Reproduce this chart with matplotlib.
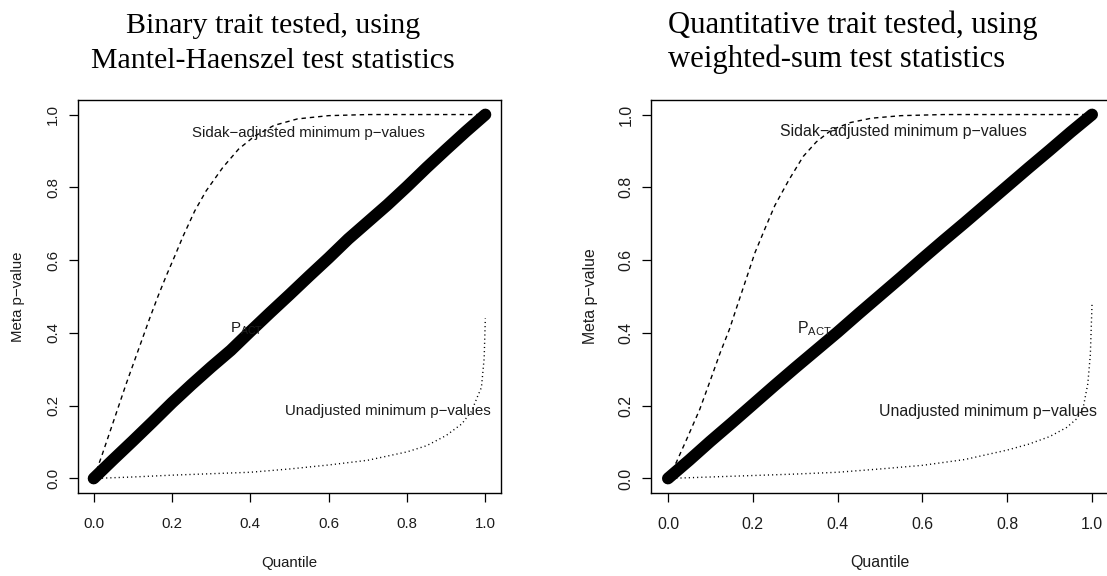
import matplotlib
matplotlib.use("Agg")
import matplotlib.pyplot as plt

# ---------------------------------------------------------------- data
quantile_grid = [0.00, 0.05, 0.10, 0.15, 0.20, 0.25, 0.30, 0.35, 0.40, 0.45, 0.50,
                 0.55, 0.60, 0.65, 0.70, 0.75, 0.80, 0.85, 0.90, 0.95, 1.00]

# observed meta p-values (P_ACT) at each quantile
binary_actual = [0.000, 0.052, 0.103, 0.155, 0.208, 0.258, 0.306, 0.352, 0.404, 0.455, 0.505,
                 0.556, 0.606, 0.658, 0.705, 0.752, 0.802, 0.854, 0.904, 0.953, 1.000]
quant_actual = [0.000, 0.050, 0.102, 0.152, 0.203, 0.254, 0.304, 0.353, 0.402, 0.453, 0.503,
                0.553, 0.604, 0.654, 0.703, 0.753, 0.803, 0.853, 0.902, 0.952, 1.000]

# Sidak-adjusted minimum p-values
binary_sidak_q = [0.000, 0.020, 0.050, 0.083, 0.113, 0.143, 0.164, 0.185, 0.207, 0.228, 0.258,
                  0.287, 0.330, 0.370, 0.410, 0.460, 0.520, 0.600, 0.700, 1.000]
binary_sidak_p = [0.000, 0.060, 0.155, 0.260, 0.350, 0.440, 0.500, 0.556, 0.611, 0.665, 0.735,
                  0.790, 0.855, 0.905, 0.940, 0.970, 0.988, 0.997, 1.000, 1.000]
quant_sidak_q = [0.000, 0.020, 0.045, 0.075, 0.100, 0.123, 0.145, 0.162, 0.185, 0.205, 0.230,
                 0.252, 0.285, 0.319, 0.350, 0.386, 0.430, 0.480, 0.550, 0.650, 1.000]
quant_sidak_p = [0.000, 0.045, 0.110, 0.190, 0.270, 0.345, 0.410, 0.470, 0.550, 0.620, 0.690,
                 0.750, 0.820, 0.885, 0.925, 0.958, 0.978, 0.990, 0.997, 1.000, 1.000]

# unadjusted minimum p-values
binary_unadj_q = [0.0, 0.1, 0.2, 0.3, 0.4, 0.5, 0.6, 0.7, 0.8, 0.85, 0.9, 0.94, 0.965,
                  0.98, 0.99, 0.997, 1.0]
binary_unadj_p = [0.0, 0.004, 0.009, 0.013, 0.017, 0.026, 0.037, 0.050, 0.073, 0.090, 0.118,
                  0.150, 0.185, 0.225, 0.250, 0.330, 0.440]
quant_unadj_q = [0.0, 0.1, 0.2, 0.3, 0.4, 0.5, 0.6, 0.7, 0.8, 0.85, 0.9, 0.94, 0.965,
                 0.98, 0.99, 0.996, 1.0]
quant_unadj_p = [0.0, 0.004, 0.008, 0.012, 0.017, 0.026, 0.036, 0.052, 0.078, 0.094, 0.115,
                 0.140, 0.165, 0.200, 0.260, 0.340, 0.480]

tick_values = [0.0, 0.2, 0.4, 0.6, 0.8, 1.0]
tick_labels = ["0.0", "0.2", "0.4", "0.6", "0.8", "1.0"]

binary_title = ["Binary trait tested, using", "Mantel-Haenszel test statistics"]
quant_title = ["Quantitative trait tested, using", "weighted-sum test statistics"]

# ---------------------------------------------------------------- style
W, H, DPI = 1107, 576, 100
plt.rcParams.update({
    "font.family": ["Liberation Sans", "DejaVu Sans"],
    "mathtext.fontset": "custom",
    "mathtext.rm": "Liberation Sans",
    "mathtext.it": "Liberation Sans:italic",
    "mathtext.bf": "Liberation Sans:bold",
})
TEXT = "#1c1c1c"

fig = plt.figure(figsize=(W / DPI, H / DPI), dpi=DPI)
fig.patch.set_facecolor("white")


def px_rect(left, top, right, bottom):
    return [left / W, 1 - bottom / H, (right - left) / W, (bottom - top) / H]


def panel(box, actual, sidak_q, sidak_p, unadj_q, unadj_p,
          sidak_at, pact_at, unadj_at, fs=10.8, show_right=True):
    left, top, right, bottom = box
    ax = fig.add_axes(px_rect(left, top, right, bottom))
    ax.plot(sidak_q, sidak_p, color="black", lw=1.0, dashes=(3.2, 2.8))
    ax.plot(unadj_q, unadj_p, color="black", lw=1.0, dashes=(0.8, 2.2))
    ax.text(*sidak_at, "Sidak\u2212adjusted minimum p\u2212values",
            ha="center", va="center", fontsize=fs, color=TEXT)
    ax.text(*unadj_at, "Unadjusted minimum p\u2212values",
            ha="center", va="center", fontsize=fs, color=TEXT)
    ax.text(*pact_at, r"$\mathrm{P}_{\mathrm{ACT}}$",
            ha="left", va="baseline", fontsize=fs, color=TEXT)
    ax.plot(quantile_grid, actual, color="black", lw=8.6,
            solid_capstyle="round", solid_joinstyle="round")

    ax.set_xlim(-0.04, 1.04)
    ax.set_ylim(-0.04, 1.04)
    ax.set_xticks(tick_values)
    ax.set_xticklabels(tick_labels)
    ax.set_yticks(tick_values)
    ax.set_yticklabels(tick_labels)
    ax.tick_params(axis="both", direction="out", length=6.5, width=0.9,
                   color="black", labelsize=fs, labelcolor=TEXT)
    ax.tick_params(axis="x", pad=10.8)
    ax.tick_params(axis="y", pad=6.2, labelrotation=90)
    for lbl in ax.get_yticklabels():
        lbl.set_va("center")
    for sp in ax.spines.values():
        sp.set_linewidth(1.0)
        sp.set_color("black")
    if not show_right:
        ax.spines["right"].set_visible(False)

    ax.set_xlabel("Quantile", fontsize=fs, color=TEXT)
    ax.xaxis.set_label_coords(0.5, -70 / (bottom - top))
    ax.xaxis.label.set_va("center")
    ax.set_ylabel("Meta p\u2212value", fontsize=fs, color=TEXT)
    ax.yaxis.set_label_coords(-60 / (right - left), 0.5)
    ax.yaxis.label.set_va("center")
    return ax


panel((78, 100, 501, 493), binary_actual, binary_sidak_q, binary_sidak_p,
      binary_unadj_q, binary_unadj_p,
      sidak_at=(0.548, 0.95), pact_at=(0.347, 0.402), unadj_at=(0.751, 0.185),
      fs=10.8)
panel((651, 100, 1109, 493), quant_actual, quant_sidak_q, quant_sidak_p,
      quant_unadj_q, quant_unadj_p,
      sidak_at=(0.555, 0.953), pact_at=(0.305, 0.400), unadj_at=(0.755, 0.184),
      fs=11.4, show_right=False)

# two-line serif headings above each panel
serif = ["Liberation Serif", "DejaVu Serif"]
for i, line in enumerate(binary_title):
    fig.text(273 / W, 1 - (33 + 34.5 * i) / H, line, ha="center", va="baseline",
             fontsize=21.5, family=serif, color="black")
for i, line in enumerate(quant_title):
    fig.text(668 / W, 1 - (33 + 34 * i) / H, line, ha="left", va="baseline",
             fontsize=22.1, family=serif, color="black")

fig.savefig("out.png", dpi=DPI, facecolor="white")
